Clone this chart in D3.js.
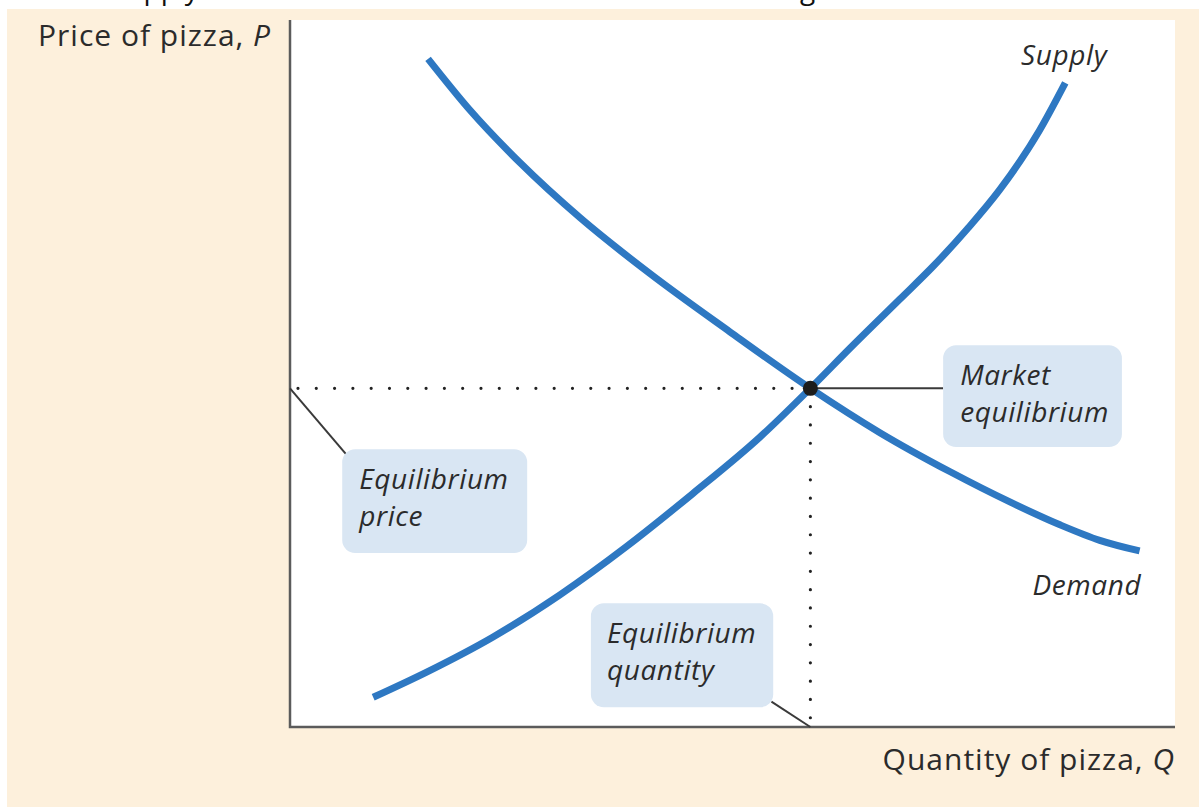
<!DOCTYPE html>
<html>
<head>
<meta charset="utf-8">
<script src="https://cdn.jsdelivr.net/npm/d3@7"></script>
<style>
  html, body { margin: 0; padding: 0; background: #fff; }
  svg { display: block; }
  text { fill: #2b2b2b; }
</style>
</head>
<body>
<div id="chart"></div>
<script>
// curves, in quantity / price units (0-100)
var demandQ = [15.6, 20.3, 26.0, 32.8, 40.7, 49.7, 58.8, 66.7, 74.6, 81.4, 87.0, 91.5, 96.0];
var demandP = [94.5, 87.3, 79.8, 72.0, 64.1, 55.9, 47.9, 41.6, 36.1, 31.8, 28.6, 26.4, 24.9];
var supplyQ = [9.4, 15.5, 22.9, 30.5, 38.1, 45.5, 53.1, 58.8, 63.3, 68.9, 72.7, 76.5, 80.2, 84.7, 87.6];
var supplyP = [4.2, 7.8, 12.7, 18.7, 25.6, 33.0, 41.0, 47.9, 53.6, 60.5, 65.2, 70.4, 76.0, 84.4, 91.1];
var equilibrium = { q: 58.8, p: 47.9 };

var xLabel = ["Quantity of pizza, ", "Q"];
var yLabel = ["Price of pizza, ", "P"];
var curveLabels = ["Supply", "Demand"];
var calloutPrice = ["Equilibrium", "price"];
var calloutQuantity = ["Equilibrium", "quantity"];
var calloutMarket = ["Market", "equilibrium"];

var width = 1199, height = 808;
var plot = { left: 290, right: 1175, top: 20, bottom: 727 };

var svg = d3.select("#chart").append("svg")
  .attr("width", width)
  .attr("height", height);

var x = d3.scaleLinear().domain([0, 100]).range([plot.left, plot.right]);
var y = d3.scaleLinear().domain([0, 100]).range([plot.bottom, plot.top]);

// backgrounds
svg.append("rect").attr("x", 7).attr("y", 9).attr("width", width - 7).attr("height", height - 10)
  .attr("fill", "#fdf0dc");
svg.append("rect").attr("x", plot.left).attr("y", plot.top)
  .attr("width", plot.right - plot.left).attr("height", plot.bottom - plot.top)
  .attr("fill", "#fff");

var font = "'Open Sans', sans-serif";

// the cut-off title at the very top (only its descenders show)
svg.append("text").attr("x", 111).attr("y", -1).attr("font-family", font)
  .attr("font-size", 28).style("fill", "#111").text("Supply");
svg.append("text").attr("x", 800).attr("y", -1).attr("font-family", font)
  .attr("font-size", 28).style("fill", "#111").text("g");

// dotted guides
var dots = svg.append("g")
  .attr("stroke", "#222")
  .attr("stroke-width", 3.2)
  .attr("stroke-linecap", "round")
  .attr("stroke-dasharray", "0 18.3")
  .attr("fill", "none");
dots.append("path").attr("d", d3.line()([
  [x(equilibrium.q), y(equilibrium.p)], [x(0) + 6, y(equilibrium.p)]]));
dots.append("path").attr("d", d3.line()([
  [x(equilibrium.q), y(equilibrium.p)], [x(equilibrium.q), y(0) - 4]]));

// axes
var axisG = svg.append("g").attr("stroke", "#5b5b5b").attr("stroke-width", 2.5).attr("fill", "none");
axisG.append("path").attr("d", d3.line()([[x(0), y(100)], [x(0), y(0)], [x(100), y(0)]]));

// callout boxes with leader lines
function callout(lines, box, leader, textOffset) {
  var g = svg.append("g");
  g.append("line")
    .attr("x1", x(leader[0][0])).attr("y1", y(leader[0][1]))
    .attr("x2", x(leader[1][0])).attr("y2", y(leader[1][1]))
    .attr("stroke", "#3a3a3a").attr("stroke-width", 2);
  g.append("rect")
    .attr("x", x(box[0])).attr("y", y(box[1]))
    .attr("width", x(box[2]) - x(box[0])).attr("height", y(box[3]) - y(box[1]))
    .attr("rx", 13)
    .attr("fill", "#d9e6f3");
  lines.forEach(function (t, i) {
    g.append("text")
      .attr("x", x(box[0]) + textOffset)
      .attr("y", y(box[1]) + 40 + i * 37)
      .attr("font-family", font)
      .attr("font-style", "italic")
      .attr("font-size", 28)
      .attr("letter-spacing", 0.6)
      .text(t);
  });
}

callout(calloutPrice, [5.9, 39.3, 26.8, 24.6],
  [[0, equilibrium.p], [6.4, 38.5]], 17);
callout(calloutQuantity, [34.0, 17.5, 54.6, 2.8],
  [[54.4, 3.6], [equilibrium.q, 0]], 16);
callout(calloutMarket, [73.8, 54.0, 94.0, 39.6],
  [[equilibrium.q, equilibrium.p], [73.8, equilibrium.p]], 17);

// supply and demand curves
var line = d3.line()
  .x(function (d) { return x(d[0]); })
  .y(function (d) { return y(d[1]); })
  .curve(d3.curveMonotoneX);

var curves = [d3.zip(demandQ, demandP), d3.zip(supplyQ, supplyP)];
svg.append("g").selectAll("path")
  .data(curves)
  .enter()
  .append("path")
  .attr("d", line)
  .attr("fill", "none")
  .attr("stroke", "#2e78c2")
  .attr("stroke-width", 7);

svg.append("circle")
  .attr("cx", x(equilibrium.q)).attr("cy", y(equilibrium.p))
  .attr("r", 7.5)
  .attr("fill", "#1c1c1c");

// curve labels
function curveLabel(t, q, p) {
  svg.append("text").attr("x", x(q)).attr("y", y(p))
    .attr("font-family", font).attr("font-style", "italic").attr("font-size", 28)
    .attr("letter-spacing", 0.6)
    .text(t);
}
curveLabel(curveLabels[0], 82.6, 93.6);
curveLabel(curveLabels[1], 83.9, 18.6);

// axis titles
var yt = svg.append("text").attr("x", 38).attr("y", 46)
  .attr("font-family", font).attr("font-size", 30).attr("letter-spacing", 1);
yt.append("tspan").text(yLabel[0]);
yt.append("tspan").attr("font-style", "italic").text(yLabel[1]);

var xt = svg.append("text").attr("x", plot.right).attr("y", 770)
  .attr("text-anchor", "end")
  .attr("font-family", font).attr("font-size", 30).attr("letter-spacing", 1);
xt.append("tspan").text(xLabel[0]);
xt.append("tspan").attr("font-style", "italic").text(xLabel[1]);
</script>
</body>
</html>
